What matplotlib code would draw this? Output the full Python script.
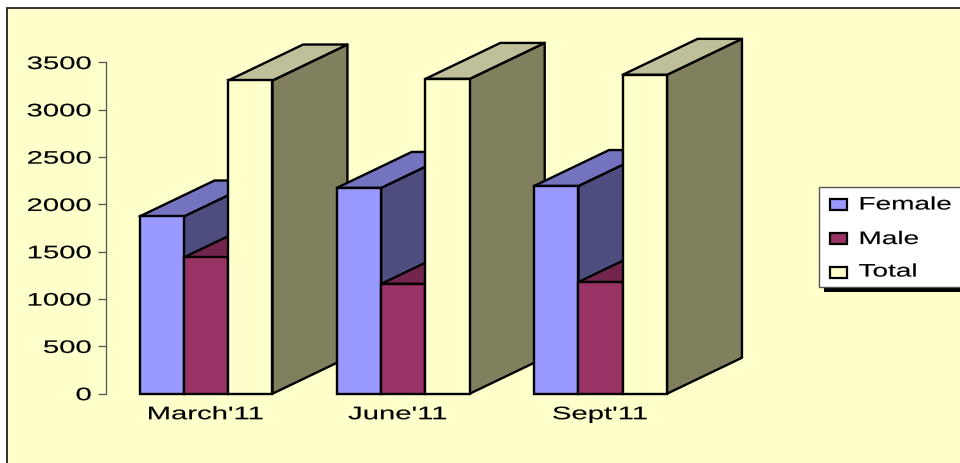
import matplotlib
matplotlib.use("Agg")
import matplotlib.pyplot as plt
from matplotlib.patches import Polygon, Rectangle
from matplotlib.patheffects import AbstractPathEffect
from matplotlib.transforms import Affine2D

categories = ["March'11", "June'11", "Sept'11"]
female = [1873, 2175, 2195]
male = [1440, 1160, 1180]
total = [3310, 3327, 3370]
series_names = ["Female", "Male", "Total"]
y_ticks = [0, 500, 1000, 1500, 2000, 2500, 3000, 3500]

# front, top and side colours of each box
colors = {
    "Female": ("#9999FF", "#7373BF", "#4D4D80"),
    "Male": ("#993366", "#73264D", "#73264D"),
    "Total": ("#FFFFCC", "#BFBF99", "#80805F"),
}
BG = "#FFFFCC"
W, H = 960, 463
LW = 1.7

# 3d look: how far the back of a box sits from the front, in data units
bar_w = 0.2246
depth_x = 0.380
depth_y = 380


class StretchX(AbstractPathEffect):
    """Widen text around its alignment point (the labels are set extended)."""

    def __init__(self, sx, anchor="left"):
        super().__init__()
        self.sx = sx
        self.anchor = anchor

    def draw_path(self, renderer, gc, tpath, affine, rgbFace=None):
        x1 = tpath.get_extents().x1
        pivot = {"left": 0, "center": x1 / 2, "right": x1}[self.anchor]
        t = Affine2D().translate(-pivot, 0).scale(self.sx, 1).translate(pivot, 0)
        # thin stroke so the widened glyphs keep some weight
        gc.set_linewidth(0.12)
        gc.set_foreground("black")
        renderer.draw_path(gc, tpath, t + affine, rgbFace)


plt.rcParams["font.family"] = ["Liberation Sans", "DejaVu Sans"]
fig = plt.figure(figsize=(W / 100, H / 100), dpi=100, facecolor="white")

# pixel coordinates, origin top left, for the panel and legend
px = Affine2D().scale(1, -1).translate(0, H)

fig.add_artist(Rectangle((6.5, 8), W, H, transform=px, facecolor=BG,
                         edgecolor="#222222", lw=1.3, zorder=-1))

ax = fig.add_axes([106 / W, (H - 393.7) / H, 664 / W, 331.2 / H])
ax.patch.set_visible(False)
ax.set_xlim(-0.507, 2.859)
ax.set_ylim(0, 3500)
for s in ["top", "right", "bottom"]:
    ax.spines[s].set_visible(False)
ax.spines["left"].set_color("#555555")
ax.spines["left"].set_linewidth(0.9)


def add_face(points, color, z):
    ax.add_patch(Polygon(points, closed=True, facecolor=color, edgecolor="black",
                         lw=LW, joinstyle="round", clip_on=False, zorder=z))


def draw_box(x0, value, cols, z):
    x1 = x0 + bar_w
    add_face([(x1, 0), (x1 + depth_x, depth_y), (x1 + depth_x, value + depth_y), (x1, value)], cols[2], z)
    add_face([(x0, value), (x0 + depth_x, value + depth_y), (x1 + depth_x, value + depth_y), (x1, value)], cols[1], z)
    ax.bar(x0, value, bar_w, align="edge", color=cols[0], edgecolor="black", lw=LW, clip_on=False, zorder=z)


z = 2
for g in range(len(categories)):
    for k, (name, values) in enumerate(zip(series_names, [female, male, total])):
        draw_box(g + (k - 1.5) * bar_w, values[g], colors[name], z)
        z += 1

ax.set_yticks(y_ticks)
ax.set_yticklabels([str(v) for v in y_ticks], fontsize=13)
ax.tick_params(axis="y", length=6, width=0.9, color="#555555", pad=4.5)
for lab in ax.get_yticklabels():
    lab.set_path_effects([StretchX(1.62, "right")])

ax.set_xticks([-0.006, 0.97, 1.995])
ax.set_xticklabels(categories, fontsize=13)
ax.tick_params(axis="x", length=0, pad=9)
for lab in ax.get_xticklabels():
    lab.set_path_effects([StretchX(1.62, "center")])

# legend box with a hard black shadow
fig.add_artist(Rectangle((824, 192), 140, 100, transform=px, facecolor="black", edgecolor="none", zorder=10))
fig.add_artist(Rectangle((819, 187), 145, 100, transform=px, facecolor="white", edgecolor="#555555", lw=1, zorder=11))
key_rows = [204, 238, 272]
for name, ky in zip(series_names, key_rows):
    fig.add_artist(Rectangle((830, ky - 5.5), 17, 11.5, transform=px, facecolor=colors[name][0],
                             edgecolor="black", lw=1.6, zorder=12))
text_rows = [209.5, 244, 276.5]
for name, ty in zip(series_names, text_rows):
    fig.text(858.5 / W, (H - ty) / H, name, fontsize=13, color="black", va="baseline", zorder=12,
             path_effects=[StretchX(1.55, "left")])

fig.savefig("out.png", dpi=100)
